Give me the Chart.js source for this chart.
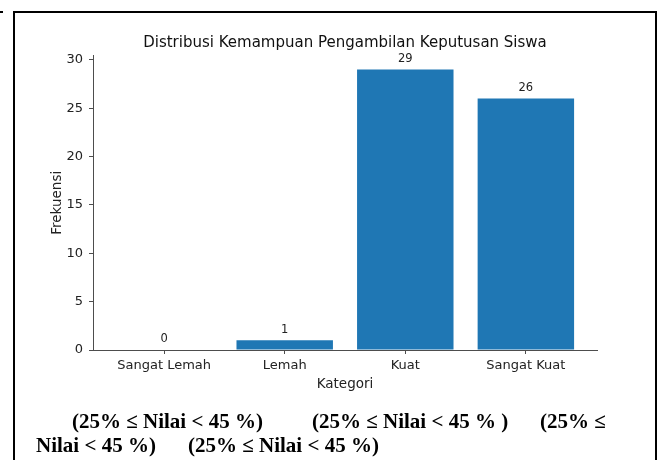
<!DOCTYPE html>
<html>
<head>
<meta charset="utf-8">
<script src="https://cdn.jsdelivr.net/npm/chart.js@4.4.0/dist/chart.umd.min.js"></script>
<style>
  html, body { margin: 0; padding: 0; background: #fff; }
  body { width: 658px; height: 460px; position: relative; overflow: hidden; }
  #chart { position: absolute; left: 0; top: 0; }
  #frame { position: absolute; left: 13px; top: 11px; width: 640px; height: 500px; border: 2px solid #000; }
  #tick { position: absolute; left: 0; top: 11px; width: 3px; height: 2px; background: #000; }
  .note { position: absolute; font-family: "Liberation Serif", serif; font-weight: bold; font-size: 21px; line-height: 24px; white-space: pre; color: #000; }
</style>
</head>
<body>
<div id="tick"></div>
<div id="frame"></div>
<canvas id="chart" width="658" height="460"></canvas>
<div class="note" style="left:72px;top:409px">(25% ≤ Nilai &lt; 45 %)</div>
<div class="note" style="left:312px;top:409px">(25% ≤ Nilai &lt; 45 % )</div>
<div class="note" style="left:540px;top:409px">(25% ≤</div>
<div class="note" style="left:36px;top:433px">Nilai &lt; 45 %)</div>
<div class="note" style="left:188px;top:433px">(25% ≤ Nilai &lt; 45 %)</div>
<script>
const categories = ['Sangat Lemah', 'Lemah', 'Kuat', 'Sangat Kuat'];
const frequencies = [0, 1, 29, 26];
const yTicks = [0, 5, 10, 15, 20, 25, 30];
const xMin = -0.59, xMax = 3.59;
const yMax = 30.45;

const font = '"DejaVu Sans", sans-serif';
const axisColor = '#4d4d4d';

// numbers above each bar
const valueLabels = {
  id: 'valueLabels',
  afterDatasetsDraw(chart) {
    const ctx = chart.ctx;
    const yScale = chart.scales.y;
    const meta = chart.getDatasetMeta(0);
    ctx.save();
    ctx.font = '11.5px ' + font;
    ctx.fillStyle = '#222';
    ctx.textAlign = 'center';
    ctx.textBaseline = 'bottom';
    meta.data.forEach((bar, i) => {
      ctx.fillText(String(frequencies[i]), bar.x, yScale.getPixelForValue(frequencies[i] + 0.5));
    });
    ctx.restore();
  }
};

new Chart(document.getElementById('chart').getContext('2d'), {
  type: 'bar',
  data: {
    datasets: [{
      data: frequencies.map((v, i) => ({ x: i, y: v })),
      backgroundColor: '#1f77b4',
      borderWidth: 0,
      categoryPercentage: 1,
      barPercentage: 0.8
    }]
  },
  options: {
    responsive: false,
    animation: false,
    devicePixelRatio: 1,
    layout: { padding: { left: 0, right: 61, top: 0, bottom: 0 } },
    plugins: {
      legend: { display: false },
      tooltip: { enabled: false },
      title: {
        display: true,
        fullSize: false,
        text: 'Distribusi Kemampuan Pengambilan Keputusan Siswa',
        color: '#111',
        font: { family: font, size: 15, weight: 'normal' },
        padding: { top: 34, bottom: 3.6 }
      }
    },
    scales: {
      x: {
        type: 'linear',
        min: xMin,
        max: xMax,
        offset: false,
        afterBuildTicks: s => { s.ticks = categories.map((c, i) => ({ value: i })); },
        afterFit: s => { s.height = 110; },
        ticks: {
          callback: v => categories[v],
          color: '#222',
          font: { family: font, size: 13 },
          padding: 4,
          maxRotation: 0,
          autoSkip: false
        },
        grid: { offset: false, drawOnChartArea: false, drawTicks: true, tickLength: 4, tickColor: axisColor },
        border: { display: true, color: axisColor, width: 1 },
        title: {
          display: true,
          text: 'Kategori',
          color: '#222',
          font: { family: font, size: 13.5 },
          padding: { top: 0, bottom: 67.9 }
        }
      },
      y: {
        min: 0,
        max: yMax,
        afterBuildTicks: s => { s.ticks = yTicks.map(v => ({ value: v })); },
        afterFit: s => { s.width = 93; },
        ticks: {
          color: '#222',
          font: { family: font, size: 13 },
          padding: 6
        },
        grid: { drawOnChartArea: false, drawTicks: true, tickLength: 4, tickColor: axisColor },
        border: { display: true, color: axisColor, width: 1 },
        title: {
          display: true,
          text: 'Frekuensi',
          color: '#222',
          font: { family: font, size: 13.5 },
          padding: { top: 48.9, bottom: 0 }
        }
      }
    }
  },
  plugins: [valueLabels]
});
</script>
</body>
</html>
